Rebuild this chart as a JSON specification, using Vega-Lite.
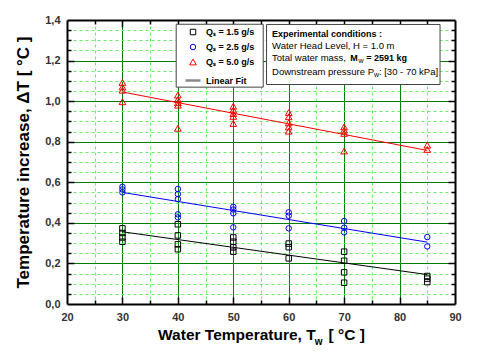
{
  "$schema": "https://vega.github.io/schema/vega-lite/v6.json",
  "width": 388,
  "height": 284,
  "autosize": {"type": "none"},
  "padding": {"left": 67, "top": 20, "right": 25, "bottom": 50},
  "background": "white",
  "config": {"font": "Liberation Sans", "view": {"stroke": null}, "axis": {"titleColor": "black"}},
  "datasets": {
    "pts": [
      {"T": 30, "dT": 0.373, "series": "Qₛ = 1.5 g/s"},
      {"T": 30, "dT": 0.350, "series": "Qₛ = 1.5 g/s"},
      {"T": 30, "dT": 0.328, "series": "Qₛ = 1.5 g/s"},
      {"T": 30, "dT": 0.307, "series": "Qₛ = 1.5 g/s"},
      {"T": 40, "dT": 0.393, "series": "Qₛ = 1.5 g/s"},
      {"T": 40, "dT": 0.338, "series": "Qₛ = 1.5 g/s"},
      {"T": 40, "dT": 0.294, "series": "Qₛ = 1.5 g/s"},
      {"T": 40, "dT": 0.270, "series": "Qₛ = 1.5 g/s"},
      {"T": 50, "dT": 0.328, "series": "Qₛ = 1.5 g/s"},
      {"T": 50, "dT": 0.307, "series": "Qₛ = 1.5 g/s"},
      {"T": 50, "dT": 0.279, "series": "Qₛ = 1.5 g/s"},
      {"T": 50, "dT": 0.258, "series": "Qₛ = 1.5 g/s"},
      {"T": 60, "dT": 0.298, "series": "Qₛ = 1.5 g/s"},
      {"T": 60, "dT": 0.280, "series": "Qₛ = 1.5 g/s"},
      {"T": 60, "dT": 0.225, "series": "Qₛ = 1.5 g/s"},
      {"T": 70, "dT": 0.258, "series": "Qₛ = 1.5 g/s"},
      {"T": 70, "dT": 0.213, "series": "Qₛ = 1.5 g/s"},
      {"T": 70, "dT": 0.156, "series": "Qₛ = 1.5 g/s"},
      {"T": 70, "dT": 0.105, "series": "Qₛ = 1.5 g/s"},
      {"T": 85, "dT": 0.138, "series": "Qₛ = 1.5 g/s"},
      {"T": 85, "dT": 0.125, "series": "Qₛ = 1.5 g/s"},
      {"T": 85, "dT": 0.108, "series": "Qₛ = 1.5 g/s"},
      {"T": 30, "dT": 0.578, "series": "Qₛ = 2.5 g/s"},
      {"T": 30, "dT": 0.565, "series": "Qₛ = 2.5 g/s"},
      {"T": 30, "dT": 0.550, "series": "Qₛ = 2.5 g/s"},
      {"T": 40, "dT": 0.567, "series": "Qₛ = 2.5 g/s"},
      {"T": 40, "dT": 0.542, "series": "Qₛ = 2.5 g/s"},
      {"T": 40, "dT": 0.517, "series": "Qₛ = 2.5 g/s"},
      {"T": 40, "dT": 0.442, "series": "Qₛ = 2.5 g/s"},
      {"T": 40, "dT": 0.427, "series": "Qₛ = 2.5 g/s"},
      {"T": 50, "dT": 0.479, "series": "Qₛ = 2.5 g/s"},
      {"T": 50, "dT": 0.466, "series": "Qₛ = 2.5 g/s"},
      {"T": 50, "dT": 0.447, "series": "Qₛ = 2.5 g/s"},
      {"T": 50, "dT": 0.378, "series": "Qₛ = 2.5 g/s"},
      {"T": 60, "dT": 0.452, "series": "Qₛ = 2.5 g/s"},
      {"T": 60, "dT": 0.435, "series": "Qₛ = 2.5 g/s"},
      {"T": 60, "dT": 0.373, "series": "Qₛ = 2.5 g/s"},
      {"T": 70, "dT": 0.409, "series": "Qₛ = 2.5 g/s"},
      {"T": 70, "dT": 0.376, "series": "Qₛ = 2.5 g/s"},
      {"T": 70, "dT": 0.353, "series": "Qₛ = 2.5 g/s"},
      {"T": 85, "dT": 0.330, "series": "Qₛ = 2.5 g/s"},
      {"T": 85, "dT": 0.284, "series": "Qₛ = 2.5 g/s"},
      {"T": 30, "dT": 1.092, "series": "Qₛ = 5.0 g/s"},
      {"T": 30, "dT": 1.070, "series": "Qₛ = 5.0 g/s"},
      {"T": 30, "dT": 1.054, "series": "Qₛ = 5.0 g/s"},
      {"T": 30, "dT": 0.997, "series": "Qₛ = 5.0 g/s"},
      {"T": 40, "dT": 1.030, "series": "Qₛ = 5.0 g/s"},
      {"T": 40, "dT": 1.008, "series": "Qₛ = 5.0 g/s"},
      {"T": 40, "dT": 0.992, "series": "Qₛ = 5.0 g/s"},
      {"T": 40, "dT": 0.980, "series": "Qₛ = 5.0 g/s"},
      {"T": 40, "dT": 0.866, "series": "Qₛ = 5.0 g/s"},
      {"T": 50, "dT": 0.975, "series": "Qₛ = 5.0 g/s"},
      {"T": 50, "dT": 0.956, "series": "Qₛ = 5.0 g/s"},
      {"T": 50, "dT": 0.939, "series": "Qₛ = 5.0 g/s"},
      {"T": 50, "dT": 0.925, "series": "Qₛ = 5.0 g/s"},
      {"T": 50, "dT": 0.890, "series": "Qₛ = 5.0 g/s"},
      {"T": 60, "dT": 0.944, "series": "Qₛ = 5.0 g/s"},
      {"T": 60, "dT": 0.923, "series": "Qₛ = 5.0 g/s"},
      {"T": 60, "dT": 0.893, "series": "Qₛ = 5.0 g/s"},
      {"T": 60, "dT": 0.873, "series": "Qₛ = 5.0 g/s"},
      {"T": 60, "dT": 0.852, "series": "Qₛ = 5.0 g/s"},
      {"T": 70, "dT": 0.873, "series": "Qₛ = 5.0 g/s"},
      {"T": 70, "dT": 0.857, "series": "Qₛ = 5.0 g/s"},
      {"T": 70, "dT": 0.841, "series": "Qₛ = 5.0 g/s"},
      {"T": 70, "dT": 0.754, "series": "Qₛ = 5.0 g/s"},
      {"T": 85, "dT": 0.783, "series": "Qₛ = 5.0 g/s"},
      {"T": 85, "dT": 0.762, "series": "Qₛ = 5.0 g/s"}
    ],
    "fit": [
      {"T": 30, "dT": 0.356, "series": "Qₛ = 1.5 g/s"},
      {"T": 85, "dT": 0.145, "series": "Qₛ = 1.5 g/s"},
      {"T": 30, "dT": 0.550, "series": "Qₛ = 2.5 g/s"},
      {"T": 85, "dT": 0.305, "series": "Qₛ = 2.5 g/s"},
      {"T": 30, "dT": 1.045, "series": "Qₛ = 5.0 g/s"},
      {"T": 85, "dT": 0.757, "series": "Qₛ = 5.0 g/s"}
    ],
    "boxes": [
      {"x1": 39.7, "x2": 55.4, "y1": 1.379, "y2": 1.069},
      {"x1": 56.0, "x2": 87.3, "y1": 1.378, "y2": 1.082}
    ],
    "notes": [
      {"x": 57.0, "y": 1.3286, "text": "Experimental conditions :", "kind": "b"},
      {"x": 57.0, "y": 1.2724, "text": "Water Head Level, H = 1.0 m", "kind": "n"},
      {"x": 57.0, "y": 1.2103, "text": "Total water mass,", "kind": "n"},
      {"x": 71.1, "y": 1.2103, "text": "M", "kind": "b"},
      {"x": 72.6, "y": 1.2103, "text": "w", "kind": "s"},
      {"x": 74.0, "y": 1.2103, "text": "= 2591 kg", "kind": "b"},
      {"x": 57.0, "y": 1.1414, "text": "Downstream pressure P", "kind": "n"},
      {"x": 75.38, "y": 1.1414, "text": "w", "kind": "s"},
      {"x": 76.28, "y": 1.1414, "text": ": [30 - 70 kPa]", "kind": "n"}
    ],
    "xsub": [
      {"x": 64.7, "y": -0.187, "text": "w"}
    ]
  },
  "resolve": {"axis": {"x": "independent", "y": "independent"}},
  "layer": [
    {
      "data": {"name": "boxes"},
      "mark": {"type": "rect", "fill": "white", "stroke": "#444444", "strokeWidth": 1},
      "encoding": {
        "x": {"field": "x1", "type": "quantitative", "scale": {"domain": [20, 90], "nice": false, "zero": false},
              "axis": {"orient": "bottom", "values": [30, 40, 50, 60, 70, 80], "labels": false, "ticks": true, "tickSize": -7, "tickWidth": 1.5, "tickColor": "black", "domain": true, "domainWidth": 2, "domainColor": "black", "grid": true, "gridColor": "#008000", "gridWidth": 1, "title": null}},
        "x2": {"field": "x2"},
        "y": {"field": "y1", "type": "quantitative", "scale": {"domain": [0, 1.4], "nice": false},
              "axis": {"orient": "left", "values": [0.2, 0.4, 0.6, 0.8, 1.0, 1.2], "labels": false, "ticks": true, "tickSize": -7, "tickWidth": 1.5, "tickColor": "black", "domain": true, "domainWidth": 2, "domainColor": "black", "grid": true, "gridColor": "#008000", "gridWidth": 1, "title": null}},
        "y2": {"field": "y2"}
      }
    },
    {
      "data": {"name": "fit"},
      "mark": {"type": "line", "strokeWidth": 1},
      "encoding": {
        "x": {"field": "T", "type": "quantitative",
              "axis": {"orient": "bottom", "values": [25, 35, 45, 55, 65, 75, 85], "labels": false, "ticks": true, "tickSize": -4, "tickWidth": 1.5, "tickColor": "black", "domain": false, "grid": true, "gridColor": "#66ee66", "gridDash": [3, 3], "gridWidth": 1, "title": null}},
        "y": {"field": "dT", "type": "quantitative",
              "axis": {"orient": "left", "values": [0.05, 0.1, 0.15, 0.25, 0.3, 0.35, 0.45, 0.5, 0.55, 0.65, 0.7, 0.75, 0.85, 0.9, 0.95, 1.05, 1.1, 1.15, 1.25, 1.3, 1.35], "labels": false, "ticks": true, "tickSize": -4, "tickWidth": 1.5, "tickColor": "black", "domain": false, "grid": true, "gridColor": "#66ee66", "gridDash": [3, 3], "gridWidth": 1, "title": null}},
        "stroke": {"field": "series", "type": "nominal",
                   "scale": {"domain": ["Qₛ = 1.5 g/s", "Qₛ = 2.5 g/s", "Qₛ = 5.0 g/s"], "range": ["#000000", "#0000ff", "#ff0000"]},
                   "legend": null}
      }
    },
    {
      "data": {"name": "pts"},
      "mark": {"type": "point", "filled": false, "opacity": 1, "strokeWidth": 1},
      "encoding": {
        "x": {"field": "T", "type": "quantitative",
              "axis": {"orient": "bottom", "values": [20, 30, 40, 50, 60, 70, 80, 90], "ticks": false, "domain": false, "grid": false, "labelFontSize": 11, "labelFontWeight": "bold", "labelColor": "#333333", "labelPadding": 7, "labelFlush": false, "labelOverlap": false, "title": "Water Temperature, T\u00a0\u00a0\u00a0[ °C ]", "titleFontSize": 15.5, "titleFontWeight": "bold", "titlePadding": 5}},
        "y": {"field": "dT", "type": "quantitative",
              "axis": {"orient": "left", "values": [0, 0.2, 0.4, 0.6, 0.8, 1.0, 1.2, 1.4], "ticks": false, "domain": false, "grid": false, "labelFontSize": 11, "labelFontWeight": "bold", "labelColor": "#333333", "labelPadding": 7, "labelFlush": false, "labelOverlap": false, "labelExpr": "replace(format(datum.value, '.1f'), '.', ',')", "title": "Temperature increase, ΔT [ °C ]", "titleFontSize": 17, "titleFontWeight": "bold", "titlePadding": 12}},
        "color": {"field": "series", "type": "nominal",
                  "scale": {"domain": ["Qₛ = 1.5 g/s", "Qₛ = 2.5 g/s", "Qₛ = 5.0 g/s", "Linear Fit"], "range": ["#000000", "#0000ff", "#ff0000", "#888888"]},
                  "legend": {"title": null, "orient": "none", "legendX": 117, "legendY": 7.5, "zindex": 2, "padding": 0, "rowPadding": 4, "labelOffset": 4, "labelFontSize": 9, "labelFontWeight": "bold", "labelColor": "black"}},
        "shape": {"field": "series", "type": "nominal",
                  "scale": {"domain": ["Qₛ = 1.5 g/s", "Qₛ = 2.5 g/s", "Qₛ = 5.0 g/s", "Linear Fit"], "range": ["square", "circle", "triangle-up", "stroke"]},
                  "legend": {"title": null, "orient": "none", "legendX": 117, "legendY": 7.5, "zindex": 2, "padding": 0, "rowPadding": 4, "labelOffset": 4, "labelFontSize": 9, "labelFontWeight": "bold", "labelColor": "black"}},
        "size": {"field": "series", "type": "nominal",
                 "scale": {"type": "ordinal", "domain": ["Qₛ = 1.5 g/s", "Qₛ = 2.5 g/s", "Qₛ = 5.0 g/s", "Linear Fit"], "range": [30, 30, 45, 225]},
                 "legend": {"title": null, "orient": "none", "legendX": 117, "legendY": 7.5, "zindex": 2, "padding": 0, "rowPadding": 4, "labelOffset": 4, "labelFontSize": 9, "labelFontWeight": "bold", "labelColor": "black"}},
        "strokeWidth": {"field": "series", "type": "nominal",
                 "scale": {"type": "ordinal", "domain": ["Qₛ = 1.5 g/s", "Qₛ = 2.5 g/s", "Qₛ = 5.0 g/s", "Linear Fit"], "range": [1, 1, 1, 2.5]},
                 "legend": {"title": null, "orient": "none", "legendX": 117, "legendY": 7.5, "zindex": 2, "padding": 0, "rowPadding": 4, "labelOffset": 4, "labelFontSize": 9, "labelFontWeight": "bold", "labelColor": "black"}}
      }
    },
    {
      "data": {"name": "notes"},
      "transform": [{"filter": "datum.kind === 'n'"}],
      "mark": {"type": "text", "align": "left", "baseline": "middle", "fontSize": 9.5, "color": "black"},
      "encoding": {
        "x": {"field": "x", "type": "quantitative",
              "axis": {"orient": "top", "values": [30, 40, 50, 60, 70, 80], "labels": false, "ticks": true, "tickSize": -7, "tickWidth": 1.5, "tickColor": "black", "domain": true, "domainWidth": 2, "domainColor": "black", "grid": false, "title": null}},
        "y": {"field": "y", "type": "quantitative",
              "axis": {"orient": "right", "values": [0.2, 0.4, 0.6, 0.8, 1.0, 1.2], "labels": false, "ticks": true, "tickSize": -7, "tickWidth": 1.5, "tickColor": "black", "domain": true, "domainWidth": 2, "domainColor": "black", "grid": false, "title": null}},
        "text": {"field": "text"}
      }
    },
    {
      "data": {"name": "notes"},
      "transform": [{"filter": "datum.kind === 'b'"}],
      "mark": {"type": "text", "align": "left", "baseline": "middle", "fontSize": 9, "fontWeight": "bold", "color": "black"},
      "encoding": {
        "x": {"field": "x", "type": "quantitative",
              "axis": {"orient": "top", "values": [25, 35, 45, 55, 65, 75, 85], "labels": false, "ticks": true, "tickSize": -4, "tickWidth": 1.5, "tickColor": "black", "domain": false, "grid": false, "title": null}},
        "y": {"field": "y", "type": "quantitative",
              "axis": {"orient": "right", "values": [0.05, 0.1, 0.15, 0.25, 0.3, 0.35, 0.45, 0.5, 0.55, 0.65, 0.7, 0.75, 0.85, 0.9, 0.95, 1.05, 1.1, 1.15, 1.25, 1.3, 1.35], "labels": false, "ticks": true, "tickSize": -4, "tickWidth": 1.5, "tickColor": "black", "domain": false, "grid": false, "title": null}},
        "text": {"field": "text"}
      }
    },
    {
      "data": {"name": "notes"},
      "transform": [{"filter": "datum.kind === 's'"}],
      "mark": {"type": "text", "align": "left", "baseline": "middle", "fontSize": 7, "dy": 3, "color": "black"},
      "encoding": {
        "x": {"field": "x", "type": "quantitative", "axis": null},
        "y": {"field": "y", "type": "quantitative", "axis": null},
        "text": {"field": "text"}
      }
    },
    {
      "data": {"name": "xsub"},
      "mark": {"type": "text", "align": "left", "baseline": "middle", "fontSize": 10, "fontWeight": "bold", "color": "black"},
      "encoding": {
        "x": {"field": "x", "type": "quantitative", "axis": null},
        "y": {"field": "y", "type": "quantitative", "axis": null},
        "text": {"field": "text"}
      }
    }
  ]
}
